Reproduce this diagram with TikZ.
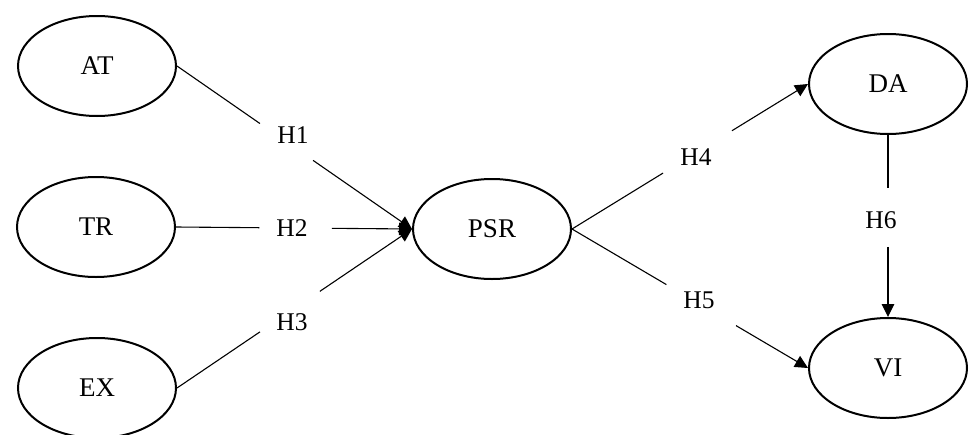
\documentclass[tikz,border=0pt]{standalone}
\usepackage{fontspec}
\setmainfont{Liberation Serif}
\usetikzlibrary{shapes.geometric,arrows.meta,calc}
\begin{document}
\begin{tikzpicture}[x=1pt,y=-1pt,
  var/.style={ellipse,draw,line width=2pt,minimum width=158pt,minimum height=100pt,inner sep=0pt,font=\fontsize{27}{27}\selectfont},
  hyp/.style={font=\fontsize{25.5}{25.5}\selectfont,inner sep=0pt},
  conn/.style={line width=1.1pt},
  tip/.style={-{Triangle[length=13pt,width=12.5pt]}}]
\clip (0,0) rectangle (971,434);
\useasboundingbox (0,0) rectangle (971,434);
\node[var] (AT) at (97,66) {AT};
\node[var] (TR) at (96,227) {TR};
\node[var] (EX) at (97,388) {EX};
\node[var] (PSR) at (492,229) {PSR};
\node[var] (DA) at (888,84) {DA};
\node[var] (VI) at (888,368) {VI};
\node[hyp] (h1) at (293,135) {H1};
\node[hyp] (h2) at (292,228) {H2};
\node[hyp] (h3) at (292,322) {H3};
\node[hyp] (h4) at (696,157) {H4};
\node[hyp] (h5) at (699,300) {H5};
\node[hyp] (h6) at (881,220) {H6};
% H1
\draw[conn] (AT.east) -- ($(AT.east)!0.353!(PSR.west)$);
\draw[conn,tip] ($(AT.east)!0.579!(PSR.west)$) -- (PSR.west);
% H2
\draw[conn] (TR.east) -- ($(TR.east)!0.353!(PSR.west)$);
\draw[conn,tip] ($(TR.east)!0.66!(PSR.west)$) -- (PSR.west);
% H3
\draw[conn] (EX.east) -- ($(EX.east)!0.353!(PSR.west)$);
\draw[conn,tip] ($(EX.east)!0.608!(PSR.west)$) -- (PSR.west);
% H4
\draw[conn] (PSR.east) -- ($(PSR.east)!0.386!(DA.west)$);
\draw[conn,tip] ($(PSR.east)!0.678!(DA.west)$) -- (DA.west);
% H5
\draw[conn] (PSR.east) -- ($(PSR.east)!0.40!(VI.west)$);
\draw[conn,tip] ($(PSR.east)!0.695!(VI.west)$) -- (VI.west);
% H6
\draw[conn] (DA.south) -- ($(DA.south)!0.29!(VI.north)$);
\draw[conn,tip] ($(DA.south)!0.615!(VI.north)$) -- (VI.north);
\end{tikzpicture}
\end{document}
